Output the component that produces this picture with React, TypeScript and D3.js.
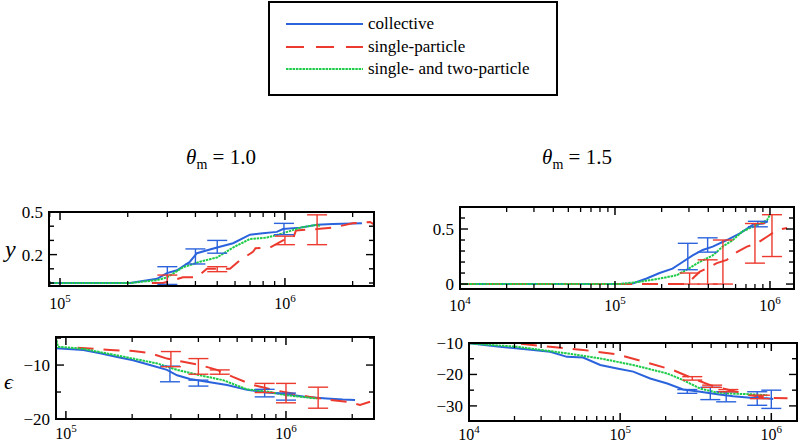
import React from 'react';
import * as d3 from 'd3';

const FONT = "'Liberation Serif', 'DejaVu Serif', 'Times New Roman', serif";

const legendLabels = ['collective', 'single-particle', 'single- and two-particle'];
const thetaValues = ['1.0', '1.5'];

type Pt = [number, number];
type Bar = [number, number, number];

// ---- theta = 1.0, y ----
const tlCollective: Pt[] = [
  [8.9e4, 0], [2.05e5, 0], [2.7e5, 0.03], [2.99e5, 0.07], [3.31e5, 0.09], [3.78e5, 0.15],
  [4.06e5, 0.21], [4.99e5, 0.25], [5.88e5, 0.28], [6.99e5, 0.34], [7.98e5, 0.35],
  [9.2e5, 0.36], [9.8e5, 0.38], [1.17e6, 0.39], [1.39e6, 0.41], [1.63e6, 0.415], [2.2e6, 0.42],
];
const tlSingle: Pt[] = [
  [2.56e5, 0.0], [2.87e5, 0.0], [3.52e5, 0.04], [4.06e5, 0.04], [4.5e5, 0.1], [5.7e5, 0.1],
  [6.31e5, 0.16], [7.21e5, 0.22], [7.4e5, 0.245], [8.58e5, 0.25], [9.8e5, 0.3], [1.09e6, 0.32],
  [1.12e6, 0.37], [1.39e6, 0.38], [1.63e6, 0.39], [2.0e6, 0.42], [2.39e6, 0.43], [2.5e6, 0.41],
];
const tlTwo: Pt[] = [
  [8.9e4, 0], [2.05e5, 0], [2.7e5, 0.02], [2.99e5, 0.04], [3.52e5, 0.11], [4.19e5, 0.15],
  [4.99e5, 0.18], [5.88e5, 0.25], [6.99e5, 0.31], [8.32e5, 0.32], [9.8e5, 0.35],
  [1.17e6, 0.39], [1.39e6, 0.41], [1.43e6, 0.4],
];
const tlCollectiveErr: Bar[] = [
  [3.0e5, -0.01, 0.115], [4.0e5, 0.134, 0.24], [5.0e5, 0.21, 0.3], [9.9e5, 0.34, 0.42],
];
const tlSingleErr: Bar[] = [
  [3.0e5, -0.05, 0.056], [5.0e5, 0.08, 0.115], [1.0e6, 0.27, 0.33], [1.39e6, 0.27, 0.48],
];

// ---- theta = 1.0, epsilon ----
const blCollective: Pt[] = [
  [9.0e4, -6.9], [1.2e5, -7.2], [1.43e5, -7.8], [1.71e5, -8.5], [2.02e5, -9.1], [2.41e5, -10],
  [2.88e5, -10.9], [3.2e5, -11.9], [3.66e5, -12.6], [4.37e5, -13.1], [5.4e5, -13.7],
  [6.65e5, -14.6], [8.2e5, -15.1], [1.01e6, -15.4], [1.24e6, -15.9], [1.53e6, -16.2],
  [1.81e6, -16.4], [2.06e6, -16.5],
];
const blSingle: Pt[] = [
  [1.13e5, -6.8], [1.59e5, -7.2], [2.02e5, -7.4], [2.41e5, -7.8], [2.88e5, -8.8], [3.41e5, -9.4],
  [4.07e5, -10], [4.86e5, -10.9], [5.74e5, -12.2], [7.08e5, -13.7], [8.73e5, -14.6],
  [1.04e6, -15.2], [1.29e6, -15.9], [1.53e6, -16.4], [1.89e6, -16.8], [2.17e6, -17.4], [2.41e6, -16.8],
];
const blTwo: Pt[] = [
  [9.0e4, -4.8], [9.2e4, -6.6], [1.2e5, -7.0], [2.02e5, -8.8], [2.6e5, -9.7], [3.2e5, -10.9],
  [4.07e5, -11.9], [5.18e5, -12.8], [6.65e5, -14.5], [8.2e5, -14.9], [1.01e6, -15.6], [1.38e6, -16.2],
];
const blCollectiveErr: Bar[] = [
  [2.97e5, -13.1, -10.2], [4.0e5, -13.9, -12.8], [8.0e5, -15.9, -14.5], [1.0e6, -16.5, -15.2],
];
const blSingleErr: Bar[] = [
  [3.0e5, -10.3, -7.5], [4.0e5, -11.7, -8.8], [5.0e5, -11.7, -10.9], [8.0e5, -15.1, -13.4],
  [1.0e6, -17, -13.4], [1.4e6, -18, -14.1],
];

// ---- theta = 1.5, y ----
const trCollective: Pt[] = [
  [1e4, 0], [1.07e5, 0], [1.3e5, 0.006], [1.6e5, 0.05], [1.94e5, 0.1], [2.35e5, 0.14],
  [2.73e5, 0.2], [3.17e5, 0.26], [3.68e5, 0.31], [4.27e5, 0.34], [5.27e5, 0.4], [6.4e5, 0.46],
  [7.77e5, 0.54], [9.02e5, 0.55], [9.7e5, 0.57],
];
const trSingle: Pt[] = [
  [1e4, 0], [2.9e5, 0], [3.17e5, 0.05], [3.51e5, 0.11], [4.54e5, 0.19], [5.27e5, 0.22],
  [6.11e5, 0.29], [7.1e5, 0.34], [8.24e5, 0.37], [9.57e5, 0.43], [1.11e6, 0.49], [1.29e6, 0.51],
];
const trTwo: Pt[] = [
  [1e4, 0], [1.07e5, 0], [1.44e5, 0.02], [1.94e5, 0.05], [2.5e5, 0.08], [2.9e5, 0.13],
  [3.51e5, 0.2], [4.27e5, 0.26], [4.95e5, 0.34], [5.76e5, 0.4], [6.67e5, 0.48], [7.77e5, 0.52],
  [9.57e5, 0.58], [1.0e6, 0.63],
];
const trCollectiveErr: Bar[] = [
  [2.95e5, 0.13, 0.37], [3.96e5, 0.29, 0.42], [8.35e5, 0.52, 0.57],
];
const trSingleErr: Bar[] = [
  [3.03e5, 0, 0.1], [3.96e5, 0, 0.22], [4.97e5, 0, 0.4], [8.0e5, 0.19, 0.55], [1.03e6, 0.25, 0.63],
];

// ---- theta = 1.5, epsilon ----
const brCollective: Pt[] = [
  [1e4, -10.1], [1.6e4, -11.2], [2.66e4, -12.2], [3.44e4, -12.8], [4.45e4, -14.4], [5.69e4, -14.6],
  [7.38e4, -17], [9.55e4, -18.1], [1.22e5, -19.1], [1.58e5, -21.3], [2.05e5, -22.9],
  [2.61e5, -24.8], [3.39e5, -25.5], [4.39e5, -26.3], [5.6e5, -26.9], [7.26e5, -27.4],
  [9.4e5, -27.6], [1.03e6, -27.8],
];
const brSingle: Pt[] = [
  [1e4, -10], [1.6e4, -9.9], [2.08e4, -10.1], [3.44e4, -11.2], [5.69e4, -12.2], [9.55e4, -13.6],
  [1.58e5, -16.5], [2.24e5, -18.6], [3.04e5, -21.3], [3.95e5, -23.4], [5.11e5, -24.8],
  [7.26e5, -26.6], [9.4e5, -27.4], [1.28e6, -27.6],
];
const brTwo: Pt[] = [
  [1e4, -10.1], [2.08e4, -11.2], [4.45e4, -13.3], [7.38e4, -14.9], [1.22e5, -17], [2.05e5, -19.7],
  [2.61e5, -21.8], [3.39e5, -24.5], [4.39e5, -25.8], [5.6e5, -26.1], [7.26e5, -26.3], [9.4e5, -26.6],
];
const brCollectiveErr: Bar[] = [
  [2.78e5, -26, -24.8], [3.95e5, -28, -24.1], [5.03e5, -28.7, -25.5], [8.07e5, -29.8, -25.5],
  [1.0e6, -30.8, -25],
];
const brSingleErr: Bar[] = [
  [3.0e5, -21.8, -20.7], [4.06e5, -24.1, -23.4], [5.2e5, -25.5, -24.8], [8.4e5, -27.7, -26.6],
];

const yTicksTop1 = [0, 0.1, 0.2, 0.3, 0.4, 0.5];
const yLabelsTop1 = [0.2, 0.5];
const yTicksBot1 = [-20, -15, -10, -5];
const yLabelsBot1 = [-20, -10];
const yTicksTop2 = [0, 0.1, 0.2, 0.3, 0.4, 0.5, 0.6];
const yLabelsTop2 = [0, 0.5];
const yTicksBot2 = [-30, -25, -20, -15, -10];
const yLabelsBot2 = [-30, -20, -10];

const BLUE = '#2b63dc';
const RED = '#ec3a2e';
const GREEN = '#1fcc4a';

const STYLES = [
  { color: BLUE, dash: undefined as string | undefined },
  { color: RED, dash: '16,10' },
  { color: GREEN, dash: '2.5,0.8' },
];

type Box = { left: number; right: number; top: number; bottom: number };

const textStyle = { fontFamily: FONT };

function fmt(v: number) {
  if (v === 0) return '0';
  return (v < 0 ? '\u2212' : '') + String(Math.abs(v));
}

function Panel(props: {
  id: string;
  box: Box;
  xDom: [number, number];
  yDom: [number, number];
  yTicks: number[];
  yLabels: number[];
  series: Pt[][];
  errs: Bar[][];
  labelOffset: number;
}) {
  const { id, box, xDom, yDom, yTicks, yLabels, series, errs, labelOffset } = props;
  const x = d3.scaleLog().domain(xDom).range([box.left, box.right]);
  const y = d3.scaleLinear().domain(yDom).range([box.bottom, box.top]);
  const line = d3.line<Pt>().x(d => x(d[0])).y(d => y(d[1]));

  const minor: number[] = [];
  const major: number[] = [];
  for (let e = Math.floor(Math.log10(xDom[0])); e <= Math.ceil(Math.log10(xDom[1])); e++) {
    for (let m = 1; m <= 9; m++) {
      const v = m * Math.pow(10, e);
      if (v < xDom[0] * 0.999 || v > xDom[1] * 1.001) continue;
      if (m === 1) major.push(v);
      else minor.push(v);
    }
  }
  const tickColor = '#000';
  const order = [0, 1, 2];
  return (
    <g>
      <defs>
        <clipPath id={id}>
          <rect x={box.left} y={box.top} width={box.right - box.left} height={box.bottom - box.top} />
        </clipPath>
      </defs>
      <g clipPath={`url(#${id})`}>
        {order.map(i => (
          <path key={i} d={line(series[i]) || ''} fill="none" stroke={STYLES[i].color}
            strokeWidth={2} strokeDasharray={STYLES[i].dash} />
        ))}
        {errs.map((list, si) =>
          list.map((b, j) => {
            const cx = x(b[0]);
            const c = si === 0 ? BLUE : RED;
            return (
              <g key={`${si}-${j}`} stroke={c} strokeWidth={1.4}>
                <line x1={cx} x2={cx} y1={y(b[1])} y2={y(b[2])} />
                <line x1={cx - 10} x2={cx + 10} y1={y(b[1])} y2={y(b[1])} />
                <line x1={cx - 10} x2={cx + 10} y1={y(b[2])} y2={y(b[2])} />
              </g>
            );
          })
        )}
      </g>
      {major.map(v => (
        <g key={'M' + v} stroke={tickColor} strokeWidth={1.5}>
          <line x1={x(v)} x2={x(v)} y1={box.bottom} y2={box.bottom - 8} />
          <line x1={x(v)} x2={x(v)} y1={box.top} y2={box.top + 8} />
        </g>
      ))}
      {minor.map(v => (
        <g key={'m' + v} stroke={tickColor} strokeWidth={1.3}>
          <line x1={x(v)} x2={x(v)} y1={box.bottom} y2={box.bottom - 5} />
          <line x1={x(v)} x2={x(v)} y1={box.top} y2={box.top + 5} />
        </g>
      ))}
      {major.map(v => (
        <text key={'L' + v} x={x(v)} y={box.bottom + labelOffset} textAnchor="middle" style={textStyle}
          fontSize={16} fill="#000">
          10<tspan dy={-7} fontSize={11}>{Math.round(Math.log10(v))}</tspan>
        </text>
      ))}
      {yTicks.map(v => {
        const len = yLabels.includes(v) ? 8 : 5;
        return (
          <g key={'y' + v} stroke={tickColor} strokeWidth={1.4}>
            <line x1={box.left} x2={box.left + len} y1={y(v)} y2={y(v)} />
            <line x1={box.right} x2={box.right - len} y1={y(v)} y2={y(v)} />
          </g>
        );
      })}
      {yLabels.map(v => (
        <text key={'yl' + v} x={box.left - 6} y={y(v)} dy="0.35em" textAnchor="end" style={textStyle}
          fontSize={17} fill="#000">{fmt(v)}</text>
      ))}
      <rect x={box.left} y={box.top} width={box.right - box.left} height={box.bottom - box.top}
        fill="none" stroke="#000" strokeWidth={2} />
    </g>
  );
}

export default function App() {
  const boxTL: Box = { left: 49, right: 374, top: 212, bottom: 286 };
  const boxBL: Box = { left: 56, right: 374, top: 337, bottom: 419 };
  const boxTR: Box = { left: 460, right: 794, top: 207, bottom: 289 };
  const boxBR: Box = { left: 469, right: 797, top: 343, bottom: 421 };

  const legendYs = [24, 47, 69];

  return (
    <svg width={800} height={444} style={{ position: 'absolute', left: 0, top: 0, background: '#fff' }}>
      <rect x={0} y={0} width={800} height={444} fill="#fff" />
      <rect x={269} y={2} width={288} height={93} fill="#fff" stroke="#000" strokeWidth={2} />
      {legendLabels.map((lab, i) => (
        <g key={lab}>
          <line x1={286} x2={363} y1={legendYs[i]} y2={legendYs[i]} stroke={STYLES[i].color}
            strokeWidth={2} strokeDasharray={i === 1 ? '18,12' : STYLES[i].dash} />
          <text x={368} y={legendYs[i]} dy="0.32em" style={textStyle} fontSize={17} fill="#000">{lab}</text>
        </g>
      ))}
      {thetaValues.map((t, i) => (
        <text key={t} x={i === 0 ? 221 : 577} y={164} textAnchor="middle" style={textStyle}
          fontSize={21} fill="#000">
          <tspan fontStyle="italic">θ</tspan>
          <tspan fontSize={14} dy={5}>m</tspan>
          <tspan dy={-5}> = {t}</tspan>
        </text>
      ))}
      <text x={5} y={255} dy="0.1em" style={textStyle} fontStyle="italic" fontSize={24} fill="#000">y</text>
      <text x={4} y={381} dy="0.35em" style={textStyle} fontStyle="italic" fontSize={22} fill="#000">ϵ</text>

      <Panel id="cTL" box={boxTL} xDom={[Math.pow(10, 4.951), Math.pow(10, 6.396)]} yDom={[-0.021, 0.5]}
        yTicks={yTicksTop1} yLabels={yLabelsTop1} series={[tlCollective, tlSingle, tlTwo]}
        errs={[tlCollectiveErr, tlSingleErr]} labelOffset={23} />
      <Panel id="cBL" box={boxBL} xDom={[Math.pow(10, 4.955), Math.pow(10, 6.4)]} yDom={[-20, -4.8]}
        yTicks={yTicksBot1} yLabels={yLabelsBot1} series={[blCollective, blSingle, blTwo]}
        errs={[blCollectiveErr, blSingleErr]} labelOffset={20} />
      <Panel id="cTR" box={boxTR} xDom={[1e4, Math.pow(10, 6.155)]} yDom={[-0.045, 0.7]}
        yTicks={yTicksTop2} yLabels={yLabelsTop2} series={[trCollective, trSingle, trTwo]}
        errs={[trCollectiveErr, trSingleErr]} labelOffset={22} />
      <Panel id="cBR" box={boxBR} xDom={[1e4, Math.pow(10, 6.17)]} yDom={[-34.8, -10]}
        yTicks={yTicksBot2} yLabels={yLabelsBot2} series={[brCollective, brSingle, brTwo]}
        errs={[brCollectiveErr, brSingleErr]} labelOffset={19} />
    </svg>
  );
}
